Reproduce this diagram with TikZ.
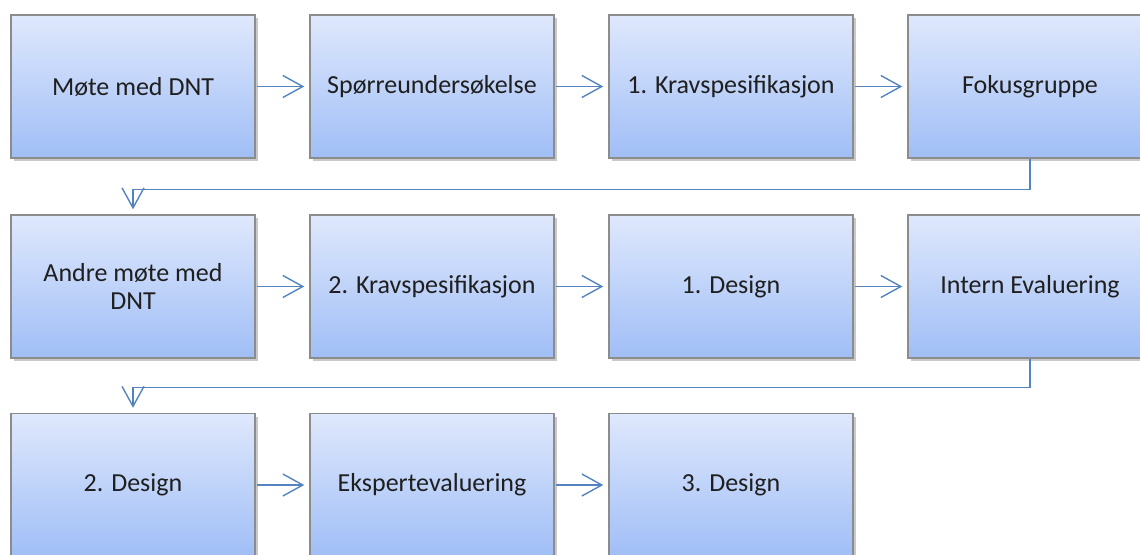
\documentclass[tikz,border=0pt]{standalone}
\usepackage{fontspec}
\setmainfont{Carlito}
\usetikzlibrary{arrows.meta,shadows}
\definecolor{boxtop}{RGB}{223,232,252}
\definecolor{boxbot}{RGB}{160,190,246}
\definecolor{boxedge}{RGB}{140,140,140}
\definecolor{arrowc}{RGB}{84,132,192}
\tikzset{
  stepbox/.style={draw=boxedge, line width=1.4pt, top color=boxtop, bottom color=boxbot,
    minimum width=244pt, minimum height=143pt, inner sep=0pt, align=center,
    font=\fontsize{26}{28}\selectfont, text=black!88,
    drop shadow={shadow xshift=3pt, shadow yshift=-3pt, opacity=0.3, fill=black!70}},
  flow/.style={draw=arrowc, line width=1.4pt,
    -{Straight Barb[length=20pt,width=22pt,line width=1.4pt]}},
}
\begin{document}
\begin{tikzpicture}[x=1pt,y=-1pt]
\useasboundingbox (0,0) rectangle (1140,554);
\begin{scope}
\clip (0,0) rectangle (1140,554);
\node[stepbox] (a) at (133,86.5) {Møte med DNT};
\node[stepbox] (b) at (432,86.5) {Spørreundersøkelse};
\node[stepbox] (c) at (731,86.5) {1. Kravspesifikasjon};
\node[stepbox] (d) at (1030,86.5) {Fokusgruppe};
\node[stepbox] (e) at (133,286.5) {Andre møte med\\DNT};
\node[stepbox] (f) at (432,286.5) {2. Kravspesifikasjon};
\node[stepbox] (g) at (731,286.5) {1. Design};
\node[stepbox] (h) at (1030,286.5) {Intern Evaluering};
\node[stepbox] (i) at (133,485) {2. Design};
\node[stepbox] (j) at (432,485) {Ekspertevaluering};
\node[stepbox] (k) at (731,485) {3. Design};
\draw[flow, shorten >=5pt, shorten <=1pt] (a.east) -- (b.west);
\draw[flow, shorten >=5pt, shorten <=1pt] (b.east) -- (c.west);
\draw[flow, shorten >=5pt, shorten <=1pt] (c.east) -- (d.west);
\draw[flow, shorten >=5pt, shorten <=1pt] (e.east) -- (f.west);
\draw[flow, shorten >=5pt, shorten <=1pt] (f.east) -- (g.west);
\draw[flow, shorten >=5pt, shorten <=1pt] (g.east) -- (h.west);
\draw[flow, shorten >=5pt, shorten <=1pt] (i.east) -- (j.west);
\draw[flow, shorten >=5pt, shorten <=1pt] (j.east) -- (k.west);
\draw[flow, shorten >=5pt] (d.south) -- ++(0,31) -| (e.north);
\draw[flow, shorten >=5pt] (h.south) -- ++(0,29) -| (i.north);
\end{scope}
\end{tikzpicture}
\end{document}
